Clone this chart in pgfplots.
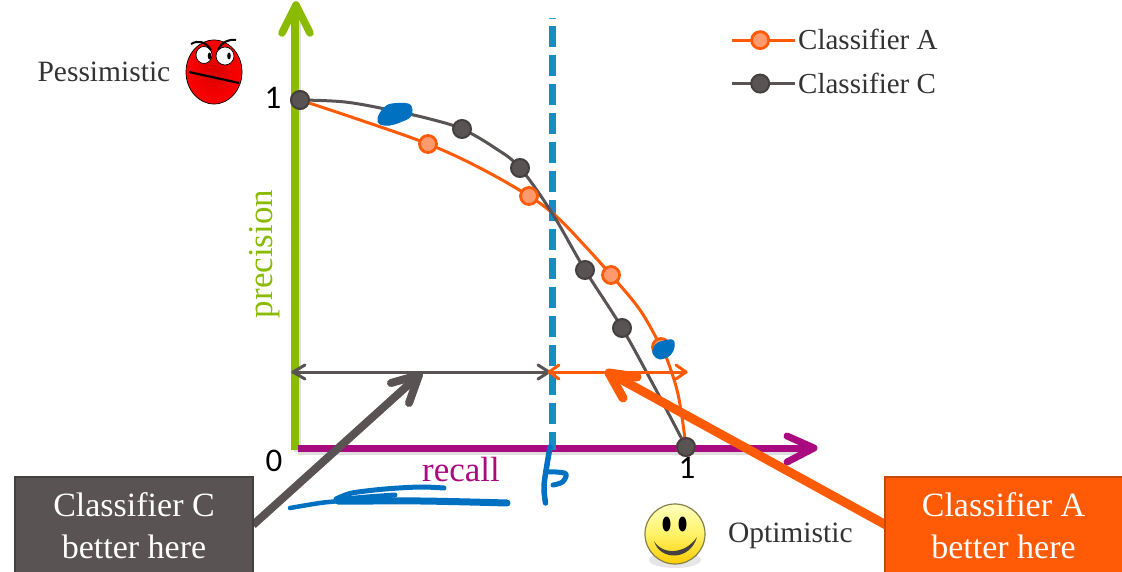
\documentclass[border=0pt]{standalone}
\usepackage{fontspec}
\setmainfont{Liberation Serif}
\newfontfamily\digits{Carlito}
\usepackage{pgfplots}
\pgfplotsset{compat=1.18}
\definecolor{cA}{HTML}{FF5A05}
\definecolor{cAfill}{HTML}{FF9A6E}
\definecolor{cAbox}{HTML}{C8480C}
\definecolor{cC}{HTML}{595353}
\definecolor{cCdark}{HTML}{454040}
\definecolor{cGreen}{HTML}{8ABB00}
\definecolor{cPurple}{HTML}{AA0A80}
\definecolor{cDash}{HTML}{148CC4}
\definecolor{cPen}{HTML}{0070C0}
\definecolor{cText}{HTML}{333333}
\newcommand{\fs}[1]{\fontsize{#1}{#1}\selectfont}
\pgfplotsset{
  canvas/.style={
    at={(0,0)}, anchor=south west, scale only axis, width=1122pt, height=572pt,
    hide axis,
  },
  % annotation layers, in pixels of the picture
  pixels/.style={canvas, xmin=0, xmax=1122, ymin=0, ymax=572, y dir=reverse},
  stroke/.style={line cap=round, line join=round, no marks, line width=#1},
  pen/.style={stroke=#1, color=cPen},
}
\begin{document}
\begin{tikzpicture}
\path[use as bounding box] (0,0) rectangle (1122pt,572pt);

% axes arrows and threshold, under the curves
\begin{axis}[pixels]
\addplot[stroke=7pt, color=black, opacity=0.13, line cap=butt] coordinates {(297,452) (297,10)};
\addplot[stroke=7pt, color=black, opacity=0.13, line cap=butt] coordinates {(298,451) (810,451)};
\addplot[stroke=7.5pt, color=cGreen, line cap=butt] coordinates {(295,450) (295,8)};
\addplot[stroke=7.5pt, color=cGreen] coordinates {(282,33) (296,5) (310,33)};
\addplot[stroke=7pt, color=cPurple, line cap=butt] coordinates {(298,448) (810,448)};
\addplot[stroke=7pt, color=cPurple] coordinates {(787,436) (814,448) (787,462)};
\addplot[no marks, line width=7pt, color=cDash, dash pattern=on 21pt off 8pt] coordinates {(552,26) (552,450)};
\addplot[no marks, line width=7pt, color=cDash, opacity=0.8] coordinates {(552,18) (552,19.5)};

\node[text=cText, anchor=west] at (34,72) {\fs{29.5}Pessimistic};
\node[text=cText, anchor=west] at (724.5,536) {\fs{29.5}Optimistic};
\node[text=cGreen, rotate=90] at (265,254) {\fs{35}precision};
\node[text=cPurple] at (461,470) {\fs{35}recall};
\node at (273,98) {\digits\fs{33}1};
\node at (274,461) {\digits\fs{33}0};
\node at (687,468) {\digits\fs{33}1};

% red face
\shade[inner color=red!85!black, outer color=red, draw=black, line width=0.7pt] (214,72) ellipse [x radius=28pt, y radius=32pt];
\filldraw[fill=white, draw=black, line width=0.7pt] (204,55) ellipse [x radius=8pt, y radius=8.5pt];
\filldraw[fill=white, draw=black, line width=0.7pt] (225,56) ellipse [x radius=9pt, y radius=9pt];
\fill[black] (209.5,56) ellipse [x radius=1.8pt, y radius=3.5pt];
\fill[black] (229,56) ellipse [x radius=1.8pt, y radius=3.5pt];
\draw[black, line width=2pt] (191,44) .. controls (198,40) and (205,41) .. (211,50);
\draw[black, line width=2pt] (218,50) .. controls (222,42) and (228,39) .. (236,40);
\draw[black, line width=2.2pt] (189,72) -- (239,83);

% smiley
\fill[gray, opacity=0.2] (675,560) ellipse [x radius=26pt, y radius=8pt];
\shade[top color=yellow!25!white, bottom color=yellow!60!orange, middle color=yellow!55!white!90!orange, draw=yellow!45!black, line width=1.2pt] (675,534) circle [radius=30pt];
\fill[black] (666.5,524) ellipse [x radius=4pt, y radius=7.5pt];
\fill[black] (682.5,524) ellipse [x radius=4pt, y radius=7.5pt];
\fill[cCdark] (654,541) .. controls (662,555) and (685,555) .. (697,537) .. controls (690,561) and (660,561) .. (654,541) -- cycle;
\end{axis}

% the two classifiers, recall and precision in real units
\begin{axis}[canvas,
    xmin=-0.77720, xmax=2.12953, ymin=-0.36023, ymax=1.28818,
    legend style={draw=none, fill=none, at={(0.6506,0.9528)}, anchor=north west,
      inner sep=0pt, font=\fs{29}, text=cText, row sep=17.5pt,
      cells={anchor=west}},
    legend cell align=left,
    legend image code/.code={
      \path (0pt,0pt) -- (63pt,0pt);
      \draw[#1, mark=none] plot coordinates {(0pt,0pt) (57pt,0pt)};
      \draw[#1, mark indices={1}] plot coordinates {(28.5pt,0pt)};
    },
]
\addplot[smooth, tension=0.6, color=cA, line width=3pt, mark=*, mark size=8.5pt,
    mark indices={1,3,5,8,10,14},
    mark options={fill=cAfill, draw=cA, line width=2.8pt}]
  coordinates {(0,1) (0.1554,0.9424) (0.3316,0.8732) (0.4663,0.8040) (0.5933,0.7233)
    (0.6658,0.6628) (0.7383,0.5793) (0.8057,0.4957) (0.8808,0.3948) (0.9352,0.2882)
    (0.9534,0.2450) (0.9767,0.1643) (0.9896,0.0865) (1,0)};
\addlegendentry{Classifier A}
\addplot[smooth, tension=0.6, color=cC, line width=3pt, mark=*, mark size=9pt,
    mark indices={1,5,7,9,10,12},
    mark options={fill=cC, draw=cCdark, line width=2pt}]
  coordinates {(0,1) (0.1166,0.9942) (0.2332,0.9712) (0.3368,0.9452) (0.4197,0.9164)
    (0.5052,0.8617) (0.5699,0.8040) (0.6528,0.6744) (0.7383,0.5101) (0.8342,0.3429)
    (0.9197,0.1700) (1,0)};
\addlegendentry{Classifier C}
\end{axis}

% callouts and pen strokes on top
\begin{axis}[pixels]
\addplot[stroke=3pt, color=cC] coordinates {(293,372) (549,372)};
\addplot[stroke=3pt, color=cC] coordinates {(305,365) (293,372) (305,379)};
\addplot[stroke=3pt, color=cC] coordinates {(538,365) (549,372) (538,379)};
\addplot[stroke=3pt, color=cA] coordinates {(549,372) (686,372)};
\addplot[stroke=3pt, color=cA] coordinates {(559,365) (549,372) (559,379)};
\addplot[stroke=3pt, color=cA] coordinates {(676,365) (686,372) (676,379)};

\addplot[stroke=8pt, color=cC, line cap=butt] coordinates {(253,525) (417,377)};
\addplot[stroke=8pt, color=cC] coordinates {(391,383) (419,375) (409,403)};
\addplot[stroke=9pt, color=cA, line cap=butt] coordinates {(886,525) (613,375)};
\addplot[stroke=9pt, color=cA] coordinates {(637,377) (609,373) (623,398)};

\filldraw[fill=cC, draw=cCdark, line width=2pt] (15,477) rectangle (253,574);
\filldraw[fill=cA, draw=cAbox, line width=2pt] (885,477) rectangle (1124,574);
\node[text=white] at (134,505) {\fs{34}Classifier C};
\node[text=white] at (134,547) {\fs{34}better here};
\node[text=white] at (1003.5,505) {\fs{34}Classifier A};
\node[text=white] at (1003.5,547) {\fs{34}better here};

% pen marks
\addplot[fill=cPen, draw=cPen, smooth cycle, tension=0.6, line width=1pt] coordinates
  {(378,118) (384,108) (392,104) (408,104) (412,110) (410,117) (400,122) (390,125) (380,124)};
\addplot[fill=cPen, draw=cPen, smooth cycle, tension=0.6, line width=1pt] coordinates
  {(653,350) (658,343) (672,340) (674,347) (670,355) (660,359) (654,355)};
\addplot[pen=4.5pt, smooth, tension=0.5] coordinates {(290,508) (320,503) (340,501)};
\addplot[pen=7pt, smooth, tension=0.5] coordinates {(338,501) (370,501) (421,501) (470,502) (507,503)};
\addplot[pen=5pt, smooth, tension=0.5] coordinates {(336,499) (352,493) (385,489) (420,487) (444,488)};
\addplot[pen=5pt, smooth, tension=0.5] coordinates {(345,499) (367,497) (395,495)};
\addplot[pen=5.5pt, smooth, tension=0.5] coordinates {(550,447) (545,477) (544,490) (545.5,503)};
\addplot[pen=5pt, smooth, tension=0.6] coordinates {(548,472) (556,472) (566,474) (562.5,482) (553,485)};
\end{axis}
\end{tikzpicture}
\end{document}
